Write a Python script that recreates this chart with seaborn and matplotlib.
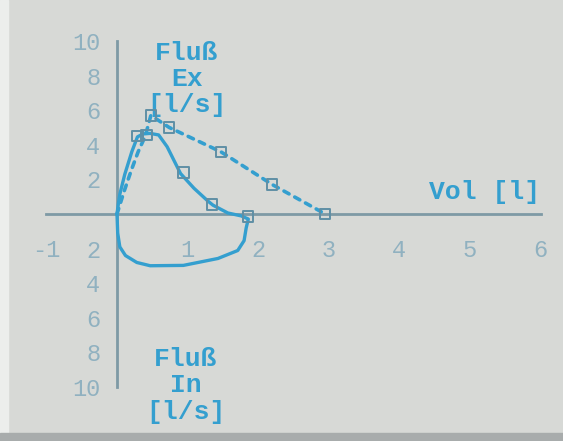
import matplotlib
matplotlib.use("Agg")
import matplotlib.pyplot as plt
from matplotlib.patches import Rectangle
import pandas as pd
import seaborn as sns

# Measured flow-volume loop (expiration positive, inspiration negative)
vol_measured = [0.00, 0.02, 0.04, 0.11, 0.21, 0.29, 0.37, 0.47, 0.59, 0.71, 0.83, 0.90,
                1.09, 1.29, 1.36, 1.57, 1.76, 1.86, 1.83, 1.80, 1.71, 1.43, 0.94,
                0.47, 0.28, 0.12, 0.04, 0.01, 0.00]
flow_measured = [0.00, 0.60, 1.14, 2.29, 3.60, 4.46, 4.63, 4.66, 4.57, 3.89, 2.91, 2.34,
                 1.49, 0.74, 0.51, 0.06, -0.11, -0.29, -0.80, -1.54, -2.11, -2.57,
                 -2.97, -2.99, -2.80, -2.40, -1.90, -1.10, 0.00]

# Marked points on the measured curve
vol_mark_measured = [0.29, 0.42, 0.94, 1.35, 1.86]
flow_mark_measured = [4.50, 4.55, 2.40, 0.55, -0.15]

# Reference (predicted) expiratory curve
vol_predicted = [0.00, 0.10, 0.20, 0.30, 0.40, 0.48, 0.74, 1.47, 2.20, 2.95]
flow_predicted = [0.00, 1.30, 2.50, 3.60, 4.50, 5.70, 5.00, 3.60, 1.70, 0.00]
vol_mark_predicted = [0.48, 0.74, 1.47, 2.20, 2.95]
flow_mark_predicted = [5.70, 5.00, 3.60, 1.70, 0.00]

x_ticks = [-1, 1, 2, 3, 4, 5, 6]
x_tick_labels = ["-1", "1", "2", "3", "4", "5", "6"]
y_ticks = [10, 8, 6, 4, 2, -2, -4, -6, -8, -10]
y_tick_labels = ["10", "8", "6", "4", "2", "2", "4", "6", "8", "10"]

PAPER = "#d7d9d6"
INK = "#349fcf"
AXIS = "#7e9aa5"
TICKTXT = "#90b1c0"

sns.set_style("white")
plt.rcParams["font.family"] = ["Liberation Mono", "DejaVu Sans Mono"]

fig = plt.figure(figsize=(5.63, 4.41), dpi=100)
fig.patch.set_facecolor(PAPER)
ax = fig.add_axes([0, 0, 1, 1])
ax.set_facecolor(PAPER)

df_meas = pd.DataFrame({"vol": vol_measured, "flow": flow_measured})
df_pred = pd.DataFrame({"vol": vol_predicted, "flow": flow_predicted})

sns.lineplot(data=df_pred, x="vol", y="flow", sort=False, ax=ax, color=INK,
             linewidth=2.6, linestyle=(0, (1.6, 1.8)), dash_capstyle="round",
             estimator=None)
sns.lineplot(data=df_meas, x="vol", y="flow", sort=False, ax=ax, color=INK,
             linewidth=2.4, estimator=None)
sns.scatterplot(x=vol_mark_predicted, y=flow_mark_predicted, ax=ax, marker="s",
                s=55, facecolor="none", edgecolor="#5f8fa5", linewidth=1.4, zorder=5)
sns.scatterplot(x=vol_mark_measured, y=flow_mark_measured, ax=ax, marker="s",
                s=55, facecolor="none", edgecolor="#5f8fa5", linewidth=1.4, zorder=5)

ax.set_xlim(-1.657, 6.317)
ax.set_ylim(-13.12, 12.37)
ax.set_xlabel("")
ax.set_ylabel("")

# Axes crossing at the origin
for side in ("top", "right"):
    ax.spines[side].set_visible(False)
ax.spines["bottom"].set_position(("data", 0))
ax.spines["left"].set_position(("data", 0))
ax.spines["bottom"].set_bounds(-1, 6)
ax.spines["left"].set_bounds(-10, 10)
for side in ("bottom", "left"):
    ax.spines[side].set_color(AXIS)
    ax.spines[side].set_linewidth(2.0)
    ax.spines[side].set_zorder(1)

ax.set_xticks(x_ticks)
ax.set_xticklabels(x_tick_labels)
ax.set_yticks(y_ticks)
ax.set_yticklabels(y_tick_labels)
ax.tick_params(axis="x", direction="out", length=10, width=1.6, color=AXIS,
               pad=8, labelsize=17, labelcolor=TICKTXT)
ax.tick_params(axis="y", direction="out", length=5, width=1.6, color=AXIS,
               pad=7, labelsize=17, labelcolor=TICKTXT)

# Axis captions
label_font = dict(family=["Liberation Mono", "DejaVu Sans Mono"], fontsize=19,
                  fontweight="bold", color=INK, ha="center", va="center",
                  multialignment="center", linespacing=1.12)
ax.text(0.99, 7.8, "Fluß\nEx\n[l/s]", **label_font)
ax.text(0.97, -9.9, "Fluß\nIn\n[l/s]", **label_font)
ax.text(6.0, 1.25, "Vol [l]", **{**label_font, "ha": "right"})

# Paper edges
fig.add_artist(Rectangle((0, 0), 8 / 563, 1, transform=fig.transFigure,
                         color="#eceeec", zorder=10))
fig.add_artist(Rectangle((0, 0), 1, 8 / 441, transform=fig.transFigure,
                         color="#a8acac", zorder=10))

fig.savefig("out.png", dpi=100, facecolor=PAPER)
